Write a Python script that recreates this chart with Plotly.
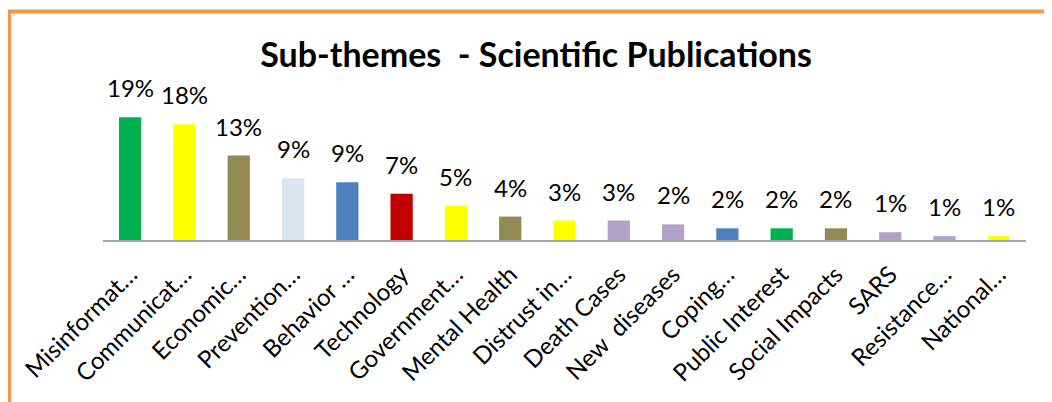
import plotly.graph_objects as go

categories = ["Misinformat…", "Communicat…", "Economic…", "Prevention…", "Behavior …",
              "Technology", "Government…", "Mental Health", "Distrust in…", "Death Cases",
              "New\u00a0 diseases", "Coping…", "Public Interest", "Social Impacts", "SARS",
              "Resistance…", "National…"]
values = [0.189, 0.178, 0.130, 0.095, 0.089, 0.071, 0.053, 0.036, 0.030, 0.030,
          0.024, 0.018, 0.018, 0.018, 0.012, 0.006, 0.006]
value_labels = ["19%", "18%", "13%", "9%", "9%", "7%", "5%", "4%", "3%", "3%",
                "2%", "2%", "2%", "2%", "1%", "1%", "1%"]
colors = ["#00B050", "#FFFF00", "#938953", "#DBE5F1", "#4F81BD", "#C00000", "#FFFF00",
          "#938953", "#FFFF00", "#B2A2C7", "#B2A2C7", "#4F81BD", "#00B050", "#938953",
          "#B2A2C7", "#B2A2C7", "#FFFF00"]

FONT = "Lato, 'Open Sans', sans-serif"

fig = go.Figure(go.Bar(x=categories, y=values, marker=dict(color=colors, line=dict(width=0)),
                       hoverinfo="skip"))

for c, v, t in zip(categories, values, value_labels):
    fig.add_annotation(x=c, y=v, text=t, showarrow=False, yanchor="bottom", yshift=13,
                       font=dict(family=FONT, size=24, color="#000000"))

fig.add_shape(type="rect", xref="paper", yref="paper", x0=-0.1018, x1=1.3, y0=-3, y1=1.758,
              line=dict(color="#F79646", width=4), fillcolor="rgba(0,0,0,0)")

fig.update_layout(
    width=1052, height=402,
    margin=dict(l=95, r=34, t=102, b=170),
    paper_bgcolor="white", plot_bgcolor="white",
    showlegend=False,
    bargap=0.59,
    title=dict(text="<b>Sub-themes  - Scientific Publications</b>", x=0.502, xanchor="center",
               y=0.883, yanchor="middle", yref="container",
               font=dict(family=FONT, size=34, color="#000000")),
    xaxis=dict(showline=True, linecolor="#A6A6A6", linewidth=2, ticks="", tickangle=-45,
               tickfont=dict(family=FONT, size=24, color="#000000"), showgrid=False,
               automargin=False, ticklabelshift=0, ticklabelstandoff=9),
    yaxis=dict(visible=False, range=[0, 0.2], showgrid=False),
)

fig.write_html("out.html")
